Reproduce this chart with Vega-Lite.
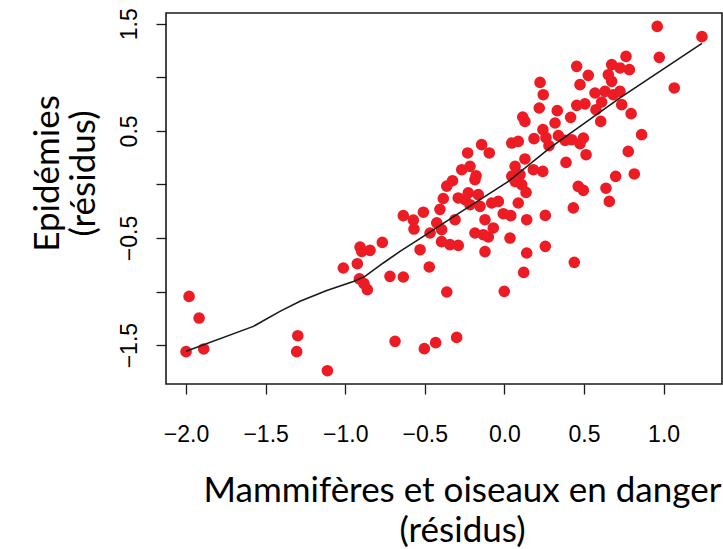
{
  "$schema": "https://vega.github.io/schema/vega-lite/v6.json",
  "width": 556,
  "height": 371,
  "autosize": "none",
  "padding": {"left": 166, "top": 13, "right": 1, "bottom": 165},
  "background": "white",
  "config": {
    "view": {"stroke": "#1a1a1a", "strokeWidth": 1.6},
    "axis": {
      "grid": false,
      "domain": false,
      "ticks": true,
      "tickColor": "#1a1a1a",
      "tickWidth": 1.3,
      "tickSize": 10,
      "labelFont": "Liberation Sans",
      "labelFontSize": 23,
      "labelColor": "#000000",
      "labelOverlap": false,
      "labelFlush": false,
      "titleFont": "Lato",
      "titleFontSize": 35,
      "titleFontWeight": "normal",
      "titleColor": "#000000"
    }
  },
  "datasets": {
    "pts": [
      {"x": -1.981, "y": -1.045}, {"x": -1.918, "y": -1.247}, {"x": -2.0, "y": -1.561}, {"x": -1.889, "y": -1.536},
      {"x": -1.298, "y": -1.412}, {"x": -1.305, "y": -1.561}, {"x": -1.112, "y": -1.739}, {"x": -1.012, "y": -0.78},
      {"x": -0.924, "y": -0.74}, {"x": -0.907, "y": -0.584}, {"x": -0.896, "y": -0.625}, {"x": -0.844, "y": -0.615},
      {"x": -0.767, "y": -0.541}, {"x": -0.911, "y": -0.882}, {"x": -0.882, "y": -0.926}, {"x": -0.861, "y": -0.982},
      {"x": -0.719, "y": -0.858}, {"x": -0.687, "y": -1.465}, {"x": -0.635, "y": -0.864}, {"x": -0.503, "y": -1.533},
      {"x": -0.432, "y": -1.477}, {"x": -0.3, "y": -1.428}, {"x": -0.362, "y": -1.004}, {"x": -0.001, "y": -0.998},
      {"x": -0.635, "y": -0.291}, {"x": -0.572, "y": -0.333}, {"x": -0.568, "y": -0.416}, {"x": -0.509, "y": -0.259},
      {"x": -0.53, "y": -0.609}, {"x": -0.472, "y": -0.77}, {"x": -0.467, "y": -0.453}, {"x": -0.425, "y": -0.359},
      {"x": -0.395, "y": -0.534}, {"x": -0.405, "y": -0.232}, {"x": -0.394, "y": -0.422}, {"x": -0.342, "y": -0.562},
      {"x": -0.29, "y": -0.569}, {"x": -0.31, "y": -0.329}, {"x": -0.384, "y": -0.131}, {"x": -0.362, "y": -0.016},
      {"x": -0.326, "y": 0.035}, {"x": -0.29, "y": -0.126}, {"x": -0.227, "y": -0.079}, {"x": -0.247, "y": -0.142},
      {"x": -0.216, "y": -0.189}, {"x": -0.164, "y": -0.095}, {"x": -0.153, "y": -0.204}, {"x": -0.185, "y": 0.045},
      {"x": -0.122, "y": -0.329}, {"x": -0.07, "y": -0.406}, {"x": -0.185, "y": -0.453}, {"x": -0.133, "y": -0.469},
      {"x": -0.101, "y": -0.49}, {"x": -0.122, "y": -0.627}, {"x": -0.08, "y": -0.173}, {"x": -0.038, "y": -0.158},
      {"x": -0.007, "y": -0.273}, {"x": 0.04, "y": -0.291}, {"x": 0.087, "y": -0.173}, {"x": 0.035, "y": -0.5},
      {"x": 0.14, "y": -0.329}, {"x": 0.14, "y": -0.64}, {"x": 0.121, "y": -0.821}, {"x": 0.257, "y": -0.289},
      {"x": 0.257, "y": -0.578}, {"x": 0.109, "y": -0.002}, {"x": 0.136, "y": -0.074}, {"x": 0.067, "y": 0.029},
      {"x": 0.439, "y": -0.727}, {"x": 0.433, "y": -0.219}, {"x": 0.659, "y": -0.158}, {"x": 0.638, "y": -0.035},
      {"x": 0.464, "y": -0.018}, {"x": 0.496, "y": -0.055}, {"x": 0.778, "y": 0.309}, {"x": 0.816, "y": 0.098},
      {"x": 0.699, "y": 0.076}, {"x": 0.387, "y": 0.206}, {"x": 0.513, "y": 0.278}, {"x": 0.241, "y": 0.122},
      {"x": 0.224, "y": 0.953}, {"x": 0.244, "y": 0.838}, {"x": 0.219, "y": 0.714}, {"x": 0.115, "y": 0.63},
      {"x": 0.129, "y": 0.589}, {"x": 0.242, "y": 0.512}, {"x": 0.186, "y": 0.428}, {"x": 0.261, "y": 0.437},
      {"x": 0.28, "y": 0.362}, {"x": 0.046, "y": 0.387}, {"x": 0.087, "y": 0.402}, {"x": 0.129, "y": 0.238},
      {"x": 0.067, "y": 0.169}, {"x": 0.182, "y": 0.138}, {"x": 0.046, "y": 0.076}, {"x": 0.098, "y": 0.092},
      {"x": -0.143, "y": 0.372}, {"x": -0.095, "y": 0.294}, {"x": -0.231, "y": 0.294}, {"x": -0.268, "y": 0.138},
      {"x": -0.216, "y": 0.169}, {"x": -0.178, "y": 0.082}, {"x": 0.96, "y": 1.476}, {"x": 1.241, "y": 1.38},
      {"x": 0.973, "y": 1.187}, {"x": 1.067, "y": 0.901}, {"x": 0.764, "y": 1.196}, {"x": 0.785, "y": 1.072},
      {"x": 0.674, "y": 1.119}, {"x": 0.726, "y": 1.088}, {"x": 0.653, "y": 1.025}, {"x": 0.674, "y": 0.963},
      {"x": 0.454, "y": 1.103}, {"x": 0.527, "y": 1.019}, {"x": 0.475, "y": 0.932}, {"x": 0.569, "y": 0.854},
      {"x": 0.632, "y": 0.869}, {"x": 0.684, "y": 0.838}, {"x": 0.726, "y": 0.869}, {"x": 0.454, "y": 0.739},
      {"x": 0.506, "y": 0.752}, {"x": 0.575, "y": 0.698}, {"x": 0.611, "y": 0.77}, {"x": 0.737, "y": 0.745},
      {"x": 0.796, "y": 0.661}, {"x": 0.332, "y": 0.689}, {"x": 0.416, "y": 0.627}, {"x": 0.605, "y": 0.589},
      {"x": 0.318, "y": 0.574}, {"x": 0.423, "y": 0.418}, {"x": 0.496, "y": 0.434}, {"x": 0.862, "y": 0.465},
      {"x": 0.339, "y": 0.456}, {"x": 0.381, "y": 0.412}, {"x": 0.475, "y": 0.381}
    ],
    "fit": [
      {"x": -2.0, "y": -1.558}, {"x": -1.577, "y": -1.325}, {"x": -1.41, "y": -1.185}, {"x": -1.284, "y": -1.091},
      {"x": -1.116, "y": -0.989}, {"x": -0.949, "y": -0.905}, {"x": -0.876, "y": -0.858}, {"x": -0.761, "y": -0.733},
      {"x": -0.656, "y": -0.625}, {"x": -0.509, "y": -0.484}, {"x": -0.3, "y": -0.282}, {"x": -0.153, "y": -0.142},
      {"x": 0.025, "y": 0.029}, {"x": 0.286, "y": 0.341}, {"x": 0.726, "y": 0.808}, {"x": 1.241, "y": 1.317}
    ]
  },
  "layer": [
    {
      "data": {"name": "pts"},
      "mark": {"type": "circle", "size": 135, "color": "#ED1C24", "opacity": 1},
      "encoding": {
        "x": {
          "field": "x", "type": "quantitative",
          "scale": {"domain": [-2.126, 1.367], "nice": false, "zero": false},
          "axis": {
            "values": [-2, -1.5, -1, -0.5, 0, 0.5, 1],
            "format": ".1f",
            "labelPadding": 29,
            "title": ["Mammifères et oiseaux en danger", "(résidus)"],
            "titleLineHeight": 40,
            "titleAlign": "center",
            "titleBaseline": "middle",
            "titleAnchor": null,
            "titleX": 296,
            "titleY": 106
          }
        },
        "y": {
          "field": "y", "type": "quantitative",
          "scale": {"domain": [-1.863, 1.601], "nice": false, "zero": false},
          "axis": {
            "values": [-1.5, -1, -0.5, 0, 0.5, 1, 1.5],
            "format": ".1f",
            "labelExpr": "(datum.value == 0 || datum.value == 1 || datum.value == -1) ? '' : datum.label",
            "labelAngle": -90,
            "labelAlign": "center",
            "labelBaseline": "bottom",
            "labelPadding": 15,
            "title": ["Epidémies", "(résidus)"],
            "titleLineHeight": 36,
            "titleAngle": -90,
            "titleAlign": "center",
            "titleBaseline": "middle",
            "titleAnchor": null,
            "titleX": -119,
            "titleY": 160
          }
        }
      }
    },
    {
      "data": {"name": "fit"},
      "mark": {"type": "line", "color": "#1a1a1a", "strokeWidth": 1.6},
      "encoding": {
        "x": {"field": "x", "type": "quantitative"},
        "y": {"field": "y", "type": "quantitative"}
      }
    }
  ]
}
